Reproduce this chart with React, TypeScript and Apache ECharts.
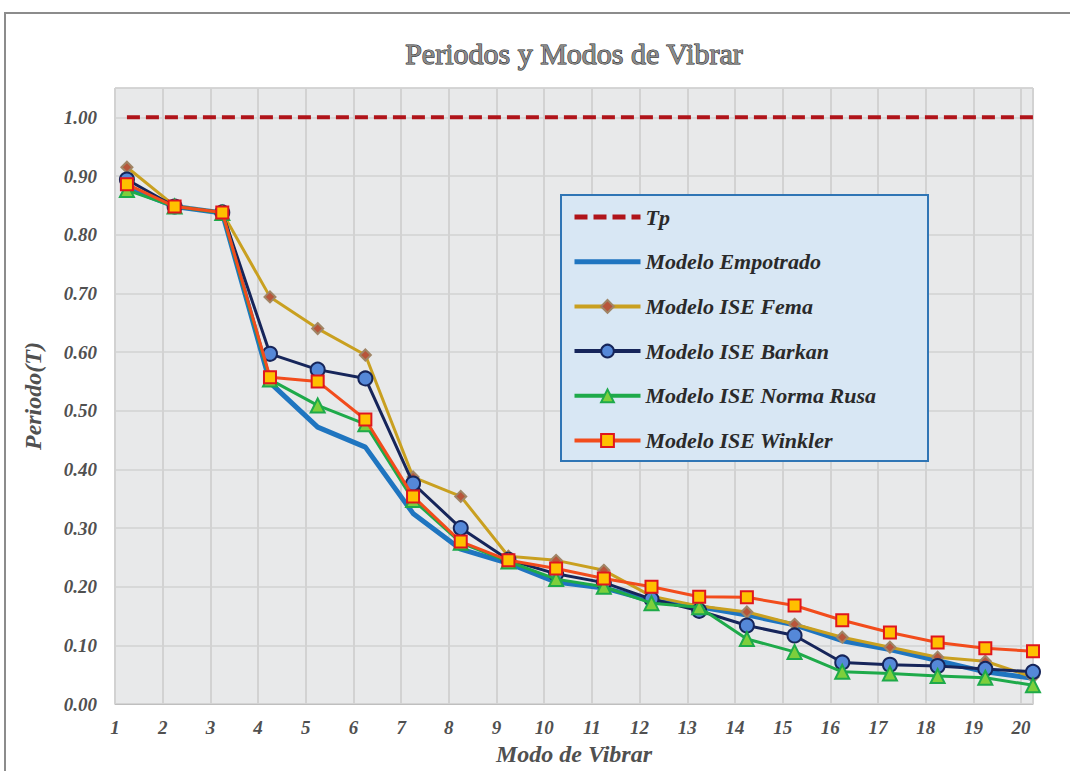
import React, { useEffect, useRef } from "react";
import * as echarts from "echarts";

const modes = [1, 2, 3, 4, 5, 6, 7, 8, 9, 10, 11, 12, 13, 14, 15, 16, 17, 18, 19, 20];
// points are plotted a quarter step right of each tick in the reference
const X_SHIFT = 0.25;

const tp = [1.0, 1.0, 1.0, 1.0, 1.0, 1.0, 1.0, 1.0, 1.0, 1.0, 1.0, 1.0, 1.0, 1.0, 1.0, 1.0, 1.0, 1.0, 1.0, 1.0];
const empotrado = [0.88, 0.848, 0.837, 0.548, 0.472, 0.438, 0.325, 0.264, 0.24, 0.208, 0.198, 0.176, 0.166, 0.152, 0.135, 0.108, 0.093, 0.074, 0.055, 0.044];
const fema = [0.915, 0.849, 0.838, 0.694, 0.64, 0.595, 0.387, 0.354, 0.252, 0.245, 0.228, 0.184, 0.167, 0.157, 0.136, 0.114, 0.097, 0.08, 0.073, 0.046];
const barkan = [0.894, 0.848, 0.838, 0.597, 0.57, 0.555, 0.376, 0.3, 0.246, 0.222, 0.207, 0.179, 0.159, 0.134, 0.117, 0.071, 0.067, 0.065, 0.06, 0.055];
const normaRusa = [0.876, 0.848, 0.837, 0.553, 0.509, 0.477, 0.348, 0.275, 0.243, 0.213, 0.2, 0.172, 0.165, 0.111, 0.089, 0.055, 0.052, 0.048, 0.045, 0.032];
const winkler = [0.886, 0.848, 0.838, 0.557, 0.55, 0.485, 0.354, 0.277, 0.245, 0.231, 0.214, 0.2, 0.183, 0.182, 0.168, 0.143, 0.122, 0.105, 0.095, 0.09];

const seriesNames = [
  "Tp",
  "Modelo Empotrado",
  "Modelo ISE Fema",
  "Modelo ISE Barkan",
  "Modelo ISE Norma Rusa",
  "Modelo ISE Winkler",
];

const pts = (vals: number[]) => modes.map((m, i) => [m + X_SHIFT, vals[i]]);

const SERIF = "Liberation Serif";
const LABEL_COLOR = "#505050";

export default function App() {
  const ref = useRef<HTMLDivElement>(null);
  useEffect(() => {
    if (!ref.current) return;
    const chart = echarts.init(ref.current, undefined, { renderer: "svg" });
    chart.setOption({
      animation: false,
      backgroundColor: "#ffffff",
      graphic: [
        {
          type: "rect",
          z: 0,
          silent: true,
          shape: { x: 5, y: 13, width: 1100, height: 800 },
          style: { fill: "none", stroke: "#8c8c8c", lineWidth: 2 },
        },
        {
          type: "text",
          z: 10,
          x: 574,
          y: 53,
          style: {
            text: "Periodos y Modos de Vibrar",
            fill: "#8a8a8a",
            stroke: "#1e1e1e",
            lineWidth: 1,
            fontSize: 30,
            fontFamily: SERIF,
            align: "center",
            verticalAlign: "middle",
          },
        },
        {
          type: "rect",
          z: 50,
          silent: true,
          shape: { x: 561, y: 195, width: 367, height: 266 },
          style: { fill: "#d8e7f4", stroke: "#2f75b5", lineWidth: 2 },
        },
      ],
      grid: {
        left: 115,
        right: 37,
        top: 88,
        bottom: 62,
        show: true,
        backgroundColor: "#e8e9ea",
        borderColor: "#c4c4c4",
        borderWidth: 1,
      },
      legend: {
        orient: "vertical",
        left: 572,
        top: 206,
        padding: 0,
        z: 60,
        itemWidth: 66,
        itemHeight: 16,
        itemGap: 22.7,
        lineStyle: { width: 4 },
        data: [
          { name: seriesNames[0], itemStyle: { opacity: 0 }, lineStyle: { width: 5 } },
          { name: seriesNames[1], itemStyle: { opacity: 0 }, lineStyle: { width: 5 } },
          { name: seriesNames[2] },
          { name: seriesNames[3] },
          { name: seriesNames[4] },
          { name: seriesNames[5] },
        ],
        textStyle: {
          fontFamily: SERIF,
          fontStyle: "italic",
          fontWeight: "bold",
          fontSize: 22,
          color: "#2a2a2a",
        },
      },
      xAxis: {
        type: "value",
        min: 1,
        max: 20.25,
        interval: 1,
        name: "Modo de Vibrar",
        nameLocation: "middle",
        nameGap: 36,
        nameTextStyle: {
          fontFamily: SERIF,
          fontStyle: "italic",
          fontWeight: "bold",
          fontSize: 24,
          color: LABEL_COLOR,
        },
        axisLine: { show: true, lineStyle: { color: "#bfbfbf", width: 1 } },
        axisTick: { show: false },
        axisLabel: {
          showMaxLabel: false,
          margin: 14,
          fontFamily: SERIF,
          fontStyle: "italic",
          fontWeight: "bold",
          fontSize: 19,
          color: LABEL_COLOR,
          formatter: (v: number) => (Number.isInteger(v) ? String(v) : ""),
        },
        splitLine: { show: true, lineStyle: { color: "#d2d2d2", width: 2 } },
      },
      yAxis: {
        type: "value",
        min: 0,
        max: 1.05,
        interval: 0.1,
        name: "Periodo(T)",
        nameLocation: "middle",
        nameGap: 70,
        nameTextStyle: {
          fontFamily: SERIF,
          fontStyle: "italic",
          fontWeight: "bold",
          fontSize: 24,
          color: LABEL_COLOR,
        },
        axisLine: { show: false },
        axisTick: { show: false },
        axisLabel: {
          showMaxLabel: false,
          margin: 18,
          fontFamily: SERIF,
          fontStyle: "italic",
          fontWeight: "bold",
          fontSize: 19,
          color: LABEL_COLOR,
          formatter: (v: number) => (v > 1.001 ? "" : v.toFixed(2)),
        },
        splitLine: { show: true, lineStyle: { color: "#d2d2d2", width: 1.5 } },
      },
      series: [
        {
          name: seriesNames[0],
          type: "line",
          data: pts(tp),
          symbol: "none",
          lineStyle: { color: "#b0141a", width: 4, type: [13, 6] },
          itemStyle: { color: "#b0141a" },
          z: 2,
        },
        {
          name: seriesNames[1],
          type: "line",
          data: pts(empotrado),
          symbol: "none",
          lineStyle: { color: "#1f75c0", width: 5 },
          itemStyle: { color: "#1f75c0" },
          z: 2,
        },
        {
          name: seriesNames[2],
          type: "line",
          data: pts(fema),
          symbol: "diamond",
          symbolSize: 11,
          lineStyle: { color: "#c9a020", width: 3 },
          itemStyle: { color: "#b8553a", borderColor: "#a08566", borderWidth: 2 },
          z: 3,
        },
        {
          name: seriesNames[3],
          type: "line",
          data: pts(barkan),
          symbol: "circle",
          symbolSize: 14,
          lineStyle: { color: "#16255a", width: 3 },
          itemStyle: { color: "#5588d8", borderColor: "#16255a", borderWidth: 2 },
          z: 4,
        },
        {
          name: seriesNames[4],
          type: "line",
          data: pts(normaRusa),
          symbol: "triangle",
          symbolSize: 14,
          lineStyle: { color: "#1eaa4a", width: 3 },
          itemStyle: { color: "#7dcf3c", borderColor: "#1eaa4a", borderWidth: 2 },
          z: 5,
        },
        {
          name: seriesNames[5],
          type: "line",
          data: pts(winkler),
          symbol: "rect",
          symbolSize: 12,
          lineStyle: { color: "#f24c1c", width: 3 },
          itemStyle: { color: "#ffc000", borderColor: "#e0161c", borderWidth: 2 },
          z: 6,
        },
      ],
    });
    return () => chart.dispose();
  }, []);
  return (
    <div
      ref={ref}
      style={{ position: "absolute", left: 0, top: 0, width: 1070, height: 771 }}
    />
  );
}
